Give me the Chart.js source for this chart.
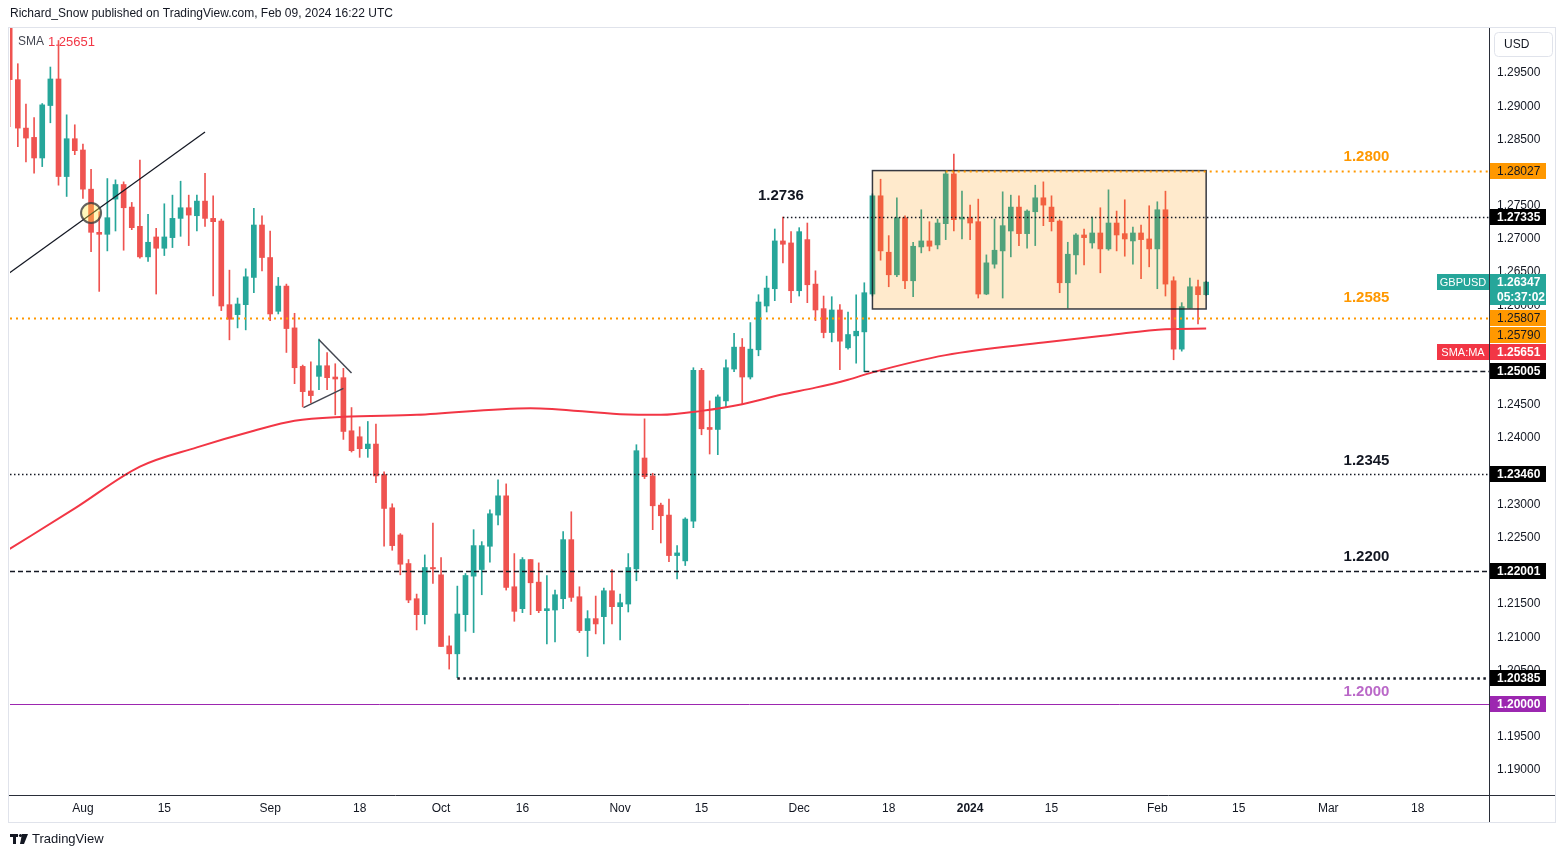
<!DOCTYPE html>
<html>
<head>
<meta charset="utf-8">
<title>GBPUSD diario</title>
<script src="https://cdn.jsdelivr.net/npm/chart.js@4.4.1/dist/chart.umd.min.js"></script>
<style>
  html, body { margin: 0; padding: 0; background: #fff; }
  canvas { display: block; }
</style>
</head>
<body>
<canvas id="grafico" width="1564" height="857"></canvas>
<script>
// GBPUSD daily candles, one per weekday starting 19 Jul 2023
const opens = [
  1.3030,1.2940,1.2867,1.2853,1.2822,1.2901,1.2941,1.2794,1.2851,1.2834,
  1.2775,1.2710,1.2707,1.2760,1.2782,1.2748,1.2719,1.2673,1.2703,1.2686,
  1.2702,1.2731,1.2747,1.2735,1.2757,1.2731,1.2727,1.2601,1.2586,1.2601,
  1.2642,1.2721,1.2672,1.2591,1.2629,1.2566,1.2508,1.2471,1.2493,1.2509,
  1.2492,1.2491,1.2411,1.2402,1.2384,1.2391,1.2345,1.2295,1.2254,1.2211,
  1.2158,1.2134,1.2205,1.2194,1.2087,1.2075,1.2134,1.2192,1.2202,1.2237,
  1.2284,1.2313,1.2176,1.2143,1.2217,1.2183,1.2140,1.2141,1.2158,1.2247,
  1.2161,1.2110,1.2128,1.2131,1.2170,1.2146,1.2150,1.2203,1.2370,1.2343,
  1.2299,1.2284,1.2223,1.2215,1.2275,1.2502,1.2416,1.2413,1.2456,1.2504,
  1.2537,1.2492,1.2533,1.2599,1.2625,1.2697,1.2694,1.2622,1.2699,1.2632,
  1.2595,1.2559,1.2593,1.2536,1.2554,1.2560,1.2617,1.2765,1.2680,1.2646,
  1.2732,1.2637,1.2688,1.2697,1.2691,1.2723,1.2798,1.2730,1.2732,1.2726,
  1.2617,1.2662,1.2682,1.2712,1.2748,1.2708,1.2741,1.2762,1.2748,1.2727,
  1.2634,1.2676,1.2706,1.2694,1.2709,1.2685,1.2724,1.2708,1.2697,1.2709,
  1.2700,1.2685,1.2744,1.2637,1.2534,1.2596,1.2628,1.2616
];
const highs = [
  1.3045,1.2964,1.2903,1.2883,1.2904,1.2959,1.2999,1.2887,1.2872,1.2843,
  1.2805,1.2741,1.2791,1.2789,1.2786,1.2755,1.2819,1.2737,1.2716,1.2753,
  1.2766,1.2787,1.2766,1.2766,1.2799,1.2765,1.2730,1.2653,1.2611,1.2655,
  1.2746,1.2735,1.2712,1.2642,1.2632,1.2588,1.2510,1.2515,1.2549,1.2529,
  1.2512,1.2505,1.2446,1.2417,1.2425,1.2421,1.2349,1.2301,1.2256,1.2217,
  1.2165,1.2224,1.2272,1.2220,1.2102,1.2177,1.2196,1.2262,1.2244,1.2292,
  1.2337,1.2331,1.2226,1.2220,1.2217,1.2212,1.2193,1.2171,1.2259,1.2289,
  1.2176,1.2140,1.2162,1.2174,1.2202,1.2165,1.2226,1.2390,1.2429,1.2347,
  1.2302,1.2308,1.2238,1.2280,1.2506,1.2505,1.2456,1.2465,1.2518,1.2558,
  1.2550,1.2574,1.2616,1.2644,1.2715,1.2733,1.2711,1.2717,1.2724,1.2652,
  1.2614,1.2613,1.2601,1.2590,1.2616,1.2634,1.2768,1.2790,1.2705,1.2762,
  1.2735,1.2695,1.2744,1.2726,1.2730,1.2802,1.2828,1.2772,1.2751,1.2760,
  1.2676,1.2730,1.2771,1.2766,1.2765,1.2744,1.2781,1.2786,1.2765,1.2729,
  1.2695,1.2708,1.2715,1.2733,1.2747,1.2774,1.2742,1.2759,1.2718,1.2721,
  1.2750,1.2756,1.2772,1.2643,1.2604,1.2641,1.2638,1.2636
];
const lows = [
  1.2869,1.2839,1.2816,1.2799,1.2809,1.2875,1.2781,1.2764,1.2827,1.2761,
  1.2681,1.2621,1.2682,1.2712,1.2683,1.2714,1.2671,1.2666,1.2617,1.2675,
  1.2687,1.2704,1.2690,1.2712,1.2719,1.2614,1.2592,1.2548,1.2566,1.2563,
  1.2619,1.2652,1.2577,1.2587,1.2529,1.2482,1.2447,1.2453,1.2473,1.2473,
  1.2435,1.2398,1.2379,1.2371,1.2371,1.2333,1.2237,1.2231,1.2194,1.2152,
  1.2111,1.2120,1.2181,1.2086,1.2052,1.2039,1.2109,1.2107,1.2164,1.2213,
  1.2269,1.2171,1.2124,1.2137,1.2134,1.2137,1.2090,1.2093,1.2143,1.2154,
  1.2107,1.2071,1.2105,1.2090,1.2120,1.2096,1.2138,1.2185,1.2339,1.2262,
  1.2242,1.2214,1.2188,1.2208,1.2265,1.2405,1.2376,1.2375,1.2446,1.2500,
  1.2452,1.2489,1.2524,1.2590,1.2607,1.2664,1.2604,1.2614,1.2604,1.2577,
  1.2551,1.2545,1.2503,1.2534,1.2513,1.2500,1.2614,1.2668,1.2628,1.2643,
  1.2625,1.2613,1.2679,1.2682,1.2685,1.2699,1.2712,1.2700,1.2699,1.2611,
  1.2616,1.2656,1.2611,1.2673,1.2690,1.2686,1.2690,1.2720,1.2712,1.2619,
  1.2596,1.2647,1.2661,1.2686,1.2649,1.2683,1.2682,1.2674,1.2662,1.2640,
  1.2658,1.2625,1.2614,1.2518,1.2531,1.2596,1.2572,1.2615
];
const closes = [
  1.2940,1.2867,1.2852,1.2822,1.2902,1.2941,1.2794,1.2851,1.2833,1.2775,
  1.2710,1.2707,1.2732,1.2782,1.2747,1.2717,1.2673,1.2695,1.2686,1.2703,
  1.2731,1.2747,1.2736,1.2757,1.2731,1.2726,1.2599,1.2579,1.2602,1.2643,
  1.2721,1.2672,1.2587,1.2629,1.2565,1.2506,1.2470,1.2464,1.2509,1.2491,
  1.2489,1.2410,1.2381,1.2384,1.2391,1.2343,1.2294,1.2238,1.2210,1.2156,
  1.2134,1.2205,1.2203,1.2086,1.2075,1.2135,1.2193,1.2238,1.2238,1.2286,
  1.2313,1.2175,1.2139,1.2217,1.2182,1.2140,1.2143,1.2164,1.2247,1.2160,
  1.2110,1.2128,1.2120,1.2170,1.2146,1.2152,1.2205,1.2381,1.2342,1.2298,
  1.2283,1.2223,1.2227,1.2278,1.2502,1.2414,1.2413,1.2462,1.2506,1.2537,
  1.2492,1.2534,1.2605,1.2626,1.2697,1.2692,1.2622,1.2711,1.2631,1.2593,
  1.2559,1.2593,1.2546,1.2556,1.2561,1.2619,1.2765,1.2682,1.2646,1.2732,
  1.2637,1.2689,1.2697,1.2689,1.2724,1.2798,1.2729,1.2732,1.2724,1.2617,
  1.2664,1.2683,1.2720,1.2748,1.2708,1.2742,1.2762,1.2751,1.2726,1.2634,
  1.2677,1.2706,1.2702,1.2709,1.2685,1.2724,1.2706,1.2700,1.2709,1.2699,
  1.2685,1.2744,1.2632,1.2534,1.2598,1.2628,1.2616,1.2635
];

// 200-day SMA at a few bars
const smaBars = [0, 8, 16, 23, 30, 35, 41, 50, 64, 75, 80, 85, 90, 95, 99, 103, 106, 115, 127, 135, 142, 147];
const smaValues = [1.2233, 1.2294, 1.2357, 1.2386, 1.2411, 1.2426, 1.2432, 1.2435, 1.2445, 1.2436, 1.2435,
  1.2441, 1.2451, 1.2466, 1.2476, 1.2488, 1.2499, 1.2525, 1.2544, 1.2555, 1.2564, 1.2565];

// drawings: trend line, pennant, range box, circle
const trendBars = [0, 24];
const trendPrices = [1.2649, 1.2861];
const pennantTopBars = [38.0, 42.0];
const pennantTopPrices = [1.2548, 1.2498];
const pennantLowBars = [36.1, 41.0];
const pennantLowPrices = [1.2446, 1.2475];
const boxBars = [106, 147];
const boxPrices = [1.28030, 1.25945];
const circleBar = 10;
const circlePrice = 1.27391;

// horizontal levels and where they start (bar index)
const levelPrices = [1.28027, 1.27335, 1.25807, 1.25005, 1.23460, 1.22001, 1.20385, 1.20000];
const levelFrom = [115, 95, 0, 105, 0, 0, 55, 0];

// texts on the chart
const noteTexts = ['1.2800', '1.2736', '1.2585', '1.2345', '1.2200', '1.2000'];
const noteBars = [166.7, 94.75, 166.7, 166.7, 166.7, 166.7];
const notePrices = [1.28235, 1.27647, 1.26110, 1.23655, 1.22209, 1.20175];

// price scale tags
const tagPrices = [1.28027, 1.27335, 1.26347, 1.25807, 1.25790, 1.25651, 1.25005, 1.23460, 1.22001, 1.20385, 1.20000];
const tagTexts = ['1.28027', '1.27335', '1.26347|05:37:02', '1.25807', '1.25790', '1.25651', '1.25005', '1.23460', '1.22001', '1.20385', '1.20000'];

// axes
const xTickDates = ['2023-08-01', '2023-08-15', '2023-09-01', '2023-09-18', '2023-10-02', '2023-10-16', '2023-11-01', '2023-11-15',
  '2023-12-01', '2023-12-18', '2024-01-01', '2024-01-15', '2024-02-01', '2024-02-15', '2024-03-01', '2024-03-18'];
const xTickLabels = ['Aug', '15', 'Sep', '18', 'Oct', '16', 'Nov', '15', 'Dec', '18', '2024', '15', 'Feb', '15', 'Mar', '18'];
const yTicks = [1.190, 1.195, 1.200, 1.205, 1.210, 1.215, 1.220, 1.225, 1.230, 1.235, 1.240, 1.245,
  1.250, 1.255, 1.260, 1.265, 1.270, 1.275, 1.280, 1.285, 1.290, 1.295];

// weekdays from the first candle to the end of the visible axis
const dates = [];
for (let d = new Date(Date.UTC(2023, 6, 19)); d <= new Date(Date.UTC(2024, 2, 29)); d.setUTCDate(d.getUTCDate() + 1)) {
  const wd = d.getUTCDay();
  if (wd !== 0 && wd !== 6) dates.push(d.toISOString().slice(0, 10));
}

const FONT = "'Liberation Sans', Arial, sans-serif";
const up = '#26a69a';
const down = '#ef5350';
const bars = opens.map((_, i) => i);
const candleColor = bars.map((i) => (closes[i] >= opens[i] ? up : down));
const pts = (xs, ys) => xs.map((v, i) => ({ x: v, y: ys[i] }));

const levelStyle = [
  { color: '#ff9800', w: 2, dash: [2, 4] },
  { color: '#131722', w: 1.3, dash: [1.5, 2.5] },
  { color: '#ff9800', w: 2, dash: [2, 4] },
  { color: '#131722', w: 1.3, dash: [5, 3] },
  { color: '#131722', w: 1.3, dash: [1.5, 2.5] },
  { color: '#131722', w: 1.3, dash: [5, 3] },
  { color: '#131722', w: 2.5, dash: [2.5, 3.5] },
  { color: '#9c27b0', w: 1, dash: [] }
];
const noteColors = ['#ff9800', '#131722', '#ff9800', '#131722', '#131722', '#ba68c8'];
const tagColors = [
  ['#ff9800', '#131722'], ['#000000', '#ffffff'], ['#26a69a', '#ffffff'], ['#ff9800', '#131722'],
  ['#ff9800', '#131722'], ['#f23645', '#ffffff'], ['#000000', '#ffffff'], ['#000000', '#ffffff'],
  ['#000000', '#ffffff'], ['#000000', '#ffffff'], ['#9c27b0', '#ffffff']
];

const overlay = {
  id: 'overlay',
  afterDatasetsDraw(chart) {
    const { ctx, chartArea: a, scales: { x, y } } = chart;
    ctx.save();
    ctx.beginPath();
    ctx.rect(a.left, a.top, a.right - a.left, a.bottom - a.top);
    ctx.clip();

    // range box over the candles
    const bx0 = x.getPixelForValue(boxBars[0]);
    const bx1 = x.getPixelForValue(boxBars[1]);
    const by0 = y.getPixelForValue(boxPrices[0]);
    const by1 = y.getPixelForValue(boxPrices[1]);
    ctx.fillStyle = 'rgba(255,152,0,0.2)';
    ctx.fillRect(bx0, by0, bx1 - bx0, by1 - by0);
    ctx.strokeStyle = 'rgba(19,23,34,0.85)';
    ctx.lineWidth = 1.5;
    ctx.strokeRect(bx0, by0, bx1 - bx0, by1 - by0);

    // circle on the trend line break
    ctx.beginPath();
    ctx.arc(x.getPixelForValue(circleBar), y.getPixelForValue(circlePrice), 10, 0, Math.PI * 2);
    ctx.fillStyle = 'rgba(255,235,59,0.35)';
    ctx.fill();
    ctx.strokeStyle = 'rgba(60,60,60,0.8)';
    ctx.lineWidth = 2;
    ctx.stroke();

    // horizontal levels
    levelPrices.forEach((p, i) => {
      const st = levelStyle[i];
      const yy = Math.round(y.getPixelForValue(p)) + 0.5;
      ctx.strokeStyle = st.color;
      ctx.lineWidth = st.w;
      ctx.setLineDash(st.dash);
      ctx.beginPath();
      ctx.moveTo(Math.max(a.left, x.getPixelForValue(levelFrom[i])), yy);
      ctx.lineTo(a.right, yy);
      ctx.stroke();
    });
    ctx.setLineDash([]);

    // texts
    ctx.font = 'bold 15px ' + FONT;
    ctx.textAlign = 'center';
    ctx.textBaseline = 'middle';
    noteTexts.forEach((t, i) => {
      ctx.fillStyle = noteColors[i];
      ctx.fillText(t, x.getPixelForValue(noteBars[i]), y.getPixelForValue(notePrices[i]));
    });
    ctx.restore();
  },
  afterDraw(chart) {
    const { ctx, chartArea: a, scales: { y } } = chart;
    ctx.save();

    // frame and separators
    ctx.strokeStyle = '#e0e3eb';
    ctx.lineWidth = 1;
    ctx.strokeRect(8.5, 27.5, 1547, 795);
    ctx.strokeStyle = '#2a2e39';
    ctx.beginPath();
    ctx.moveTo(9, a.bottom + 0.5);
    ctx.lineTo(1555, a.bottom + 0.5);
    ctx.moveTo(a.right + 0.5, 28);
    ctx.lineTo(a.right + 0.5, 822);
    ctx.stroke();

    // header and legend
    ctx.textBaseline = 'middle';
    ctx.textAlign = 'left';
    ctx.font = '12px ' + FONT;
    ctx.fillStyle = '#131722';
    ctx.fillText('Richard_Snow published on TradingView.com, Feb 09, 2024 16:22 UTC', 10, 14);
    ctx.font = '12px ' + FONT;
    ctx.fillStyle = '#434651';
    ctx.fillText('SMA', 18, 42);
    ctx.fillStyle = '#f23645';
    ctx.font = '13px ' + FONT;
    ctx.fillText('1.25651', 48, 42);

    // currency button
    ctx.strokeStyle = '#e0e3eb';
    ctx.beginPath();
    ctx.roundRect(1494.5, 32.5, 58, 24, 4);
    ctx.stroke();
    ctx.fillStyle = '#131722';
    ctx.font = '12px ' + FONT;
    ctx.fillText('USD', 1504, 45);

    // price tags on the scale, pushed apart when they overlap
    let lastBottom = -Infinity;
    tagPrices.forEach((p, i) => {
      const lines = tagTexts[i].split('|');
      const h = lines.length === 1 ? 16 : 31;
      let top = Math.round(y.getPixelForValue(p)) - 8;
      if (top < lastBottom + 1) top = lastBottom + 1;
      lastBottom = top + h;
      const [bg, fg] = tagColors[i];
      ctx.fillStyle = bg;
      ctx.fillRect(a.right + 1, top, 56, h);
      ctx.fillStyle = fg;
      ctx.font = (fg === '#ffffff' ? 'bold ' : '') + '12px ' + FONT;
      lines.forEach((t, k) => ctx.fillText(t, a.right + 8, top + 8.5 + k * 15));
      if (i === 2 || i === 5) {
        ctx.fillStyle = bg;
        ctx.fillRect(a.right - 52, top, 52, 16);
        ctx.fillStyle = '#ffffff';
        ctx.font = '11px ' + FONT;
        ctx.textAlign = 'center';
        ctx.fillText(i === 2 ? 'GBPUSD' : 'SMA:MA', a.right - 26, top + 8.5);
        ctx.textAlign = 'left';
      }
    });

    // TradingView mark
    ctx.fillStyle = '#131722';
    ctx.fillRect(10, 834, 8, 3);
    ctx.fillRect(13, 834, 3, 10);
    ctx.beginPath();
    ctx.arc(20.5, 835.5, 1.6, 0, Math.PI * 2);
    ctx.fill();
    ctx.beginPath();
    ctx.moveTo(22, 834); ctx.lineTo(28, 834); ctx.lineTo(24, 844); ctx.lineTo(20, 844);
    ctx.closePath();
    ctx.fill();
    ctx.font = '13px ' + FONT;
    ctx.fillText('TradingView', 32, 839);
    ctx.restore();
  }
};

const yearIndex = dates.indexOf('2024-01-01');

new Chart(document.getElementById('grafico'), {
  type: 'bar',
  data: {
    datasets: [
      {
        type: 'line', label: 'SMA 200', data: pts(smaBars, smaValues),
        borderColor: '#f23645', borderWidth: 2, pointRadius: 0,
        cubicInterpolationMode: 'monotone', order: 0, clip: 0
      },
      {
        type: 'line', label: 'trend', data: pts(trendBars, trendPrices),
        borderColor: '#131722', borderWidth: 1.2, pointRadius: 0, order: 1, clip: 0
      },
      {
        type: 'line', label: 'pennant top', data: pts(pennantTopBars, pennantTopPrices),
        borderColor: '#434651', borderWidth: 1.5, pointRadius: 0, order: 1, clip: 0
      },
      {
        type: 'line', label: 'pennant low', data: pts(pennantLowBars, pennantLowPrices),
        borderColor: '#434651', borderWidth: 1.5, pointRadius: 0, order: 1, clip: 0
      },
      {
        label: 'bodies', data: bars.map((i) => ({ x: i, y: [opens[i], closes[i]] })),
        backgroundColor: candleColor, barThickness: 5, minBarLength: 1,
        grouped: false, order: 2, clip: 0
      },
      {
        label: 'wicks', data: bars.map((i) => ({ x: i, y: [lows[i], highs[i]] })),
        backgroundColor: candleColor, barThickness: 1, grouped: false, order: 3, clip: 0
      }
    ]
  },
  options: {
    responsive: false,
    animation: false,
    events: [],
    layout: { padding: { left: 10, top: 28, right: 0, bottom: 0 } },
    plugins: { legend: { display: false }, tooltip: { enabled: false } },
    scales: {
      x: {
        type: 'linear', min: 0.04, max: 181.75, offset: false,
        grid: { display: false, drawTicks: false }, border: { display: false },
        afterFit: (s) => { s.height = 62; },
        afterBuildTicks: (s) => { s.ticks = xTickDates.map((d) => ({ value: dates.indexOf(d) })); },
        ticks: {
          autoSkip: false, maxRotation: 0, padding: 6, color: '#131722',
          font: (c) => ({ family: FONT, size: 12, weight: c.tick && c.tick.value === yearIndex ? 'bold' : 'normal' }),
          callback: (v) => xTickLabels[xTickDates.indexOf(dates[v])]
        }
      },
      y: {
        position: 'right', min: 1.18623, max: 1.30178,
        grid: { display: false, drawTicks: false }, border: { display: false },
        afterFit: (s) => { s.width = 75; },
        afterBuildTicks: (s) => { s.ticks = yTicks.map((v) => ({ value: v })); },
        ticks: {
          padding: 8, color: '#131722', font: { family: FONT, size: 12 },
          callback: (v) => v.toFixed(5)
        }
      }
    }
  },
  plugins: [overlay]
});
</script>
</body>
</html>
